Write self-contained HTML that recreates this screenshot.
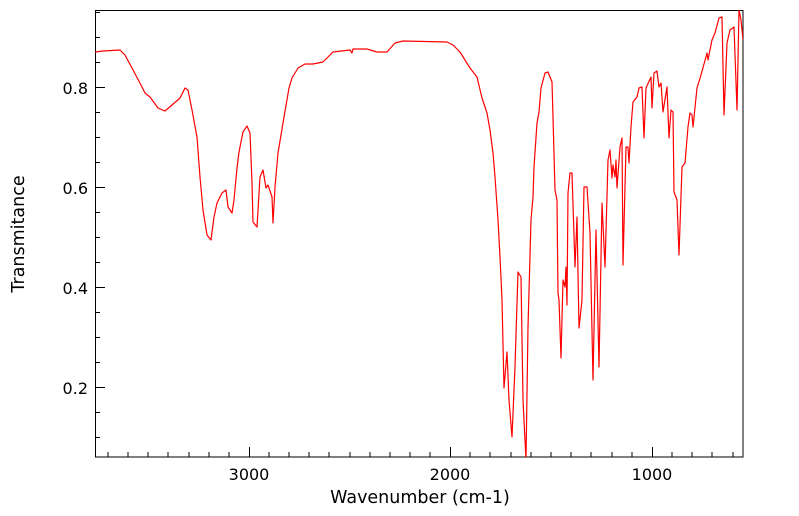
<!DOCTYPE html>
<html><head><style>body{margin:0;background:#fff}svg{display:block}</style></head><body>
<svg width="799" height="516" xmlns="http://www.w3.org/2000/svg" font-family="DejaVu Sans, Liberation Sans, sans-serif">
<defs><clipPath id="c"><rect x="95" y="10" width="648" height="447"/></clipPath></defs>
<rect x="95.5" y="10.5" width="647.5" height="446.5" fill="none" stroke="#000" stroke-width="1"/>
<g stroke="#000" stroke-width="1">
<path d="M249.5 457v-10M450.5 457v-10M652.5 457v-10"/>
<path d="M108 457v-5M128 457v-5M148 457v-5M168 457v-5M189 457v-5M209 457v-5M229 457v-5M269 457v-5M289 457v-5M309 457v-5M329 457v-5M350 457v-5M370 457v-5M390 457v-5M410 457v-5M430 457v-5M470 457v-5M490 457v-5M511 457v-5M531 457v-5M551 457v-5M571 457v-5M591 457v-5M612 457v-5M632 457v-5M672 457v-5M692 457v-5M712 457v-5M733 457v-5"/>
<path d="M95 87.5h10M95 187.5h10M95 287.5h10M95 387.5h10"/>
<path d="M95 12.5h5M95 37.5h5M95 62.5h5M95 112.5h5M95 137.5h5M95 162.5h5M95 212.5h5M95 237.5h5M95 262.5h5M95 312.5h5M95 337.5h5M95 362.5h5M95 412.5h5M95 437.5h5"/>
</g>
<g font-size="16" fill="#000">
<text x="88" y="94" text-anchor="end">0.8</text>
<text x="88" y="194" text-anchor="end">0.6</text>
<text x="88" y="294" text-anchor="end">0.4</text>
<text x="88" y="394" text-anchor="end">0.2</text>
<text x="249" y="480" text-anchor="middle">3000</text>
<text x="450" y="480" text-anchor="middle">2000</text>
<text x="652" y="480" text-anchor="middle">1000</text>
<text x="420" y="503" text-anchor="middle" font-size="17.5">Wavenumber (cm-1)</text>
<text transform="translate(24,234) rotate(-90)" text-anchor="middle" font-size="17.5">Transmitance</text>
</g>
<polyline clip-path="url(#c)" fill="none" stroke="#ff0000" stroke-width="1.2" stroke-linejoin="round" points="95,52 103,51 120,50 125,55 132,68 142,87 145,93 150,97 158,108 165,111 172,105 180,98 185,88 188,90 192,110 197,137 200,177 203,210 207,235 211,240 214,217 217,203 222,193 226,190 228,207 232,213 234,200 237,168 239,152 243,132 247,126 250,133 252,183 253,222 257,227 260,177 263,170 266,188 268,185 272,197 273,223 275,187 278,153 283,123 289,88 292,78 298,68 305,64 313,64 323,62 333,52 350,50 352,53 353,49 367,49 377,52 387,52 395,43 403,41 447,42 453,45 460,52 470,68 477,77 482,98 487,113 490,130 493,153 495,177 498,220 500,257 502,300 504,388 507,352 509,400 512,437 515,367 518,272 521,277 523,400 526,460 528,327 531,220 533,197 534,167 537,123 539,112 541,88 545,73 548,72 552,82 553,117 555,190 557,200 558,293 559,300 561,358 563,280 565,287 566,267 567,305 568,193 570,173 572,173 575,267 577,217 579,328 582,300 584,187 587,187 590,233 593,380 596,230 599,367 602,203 605,267 608,160 610,150 612,178 613,165 615,177 616,160 617,188 620,147 622,138 623,265 626,147 628,147 629,163 631,127 633,102 637,97 639,88 642,87 644,138 646,88 651,77 652,108 654,73 657,71 659,87 661,83 663,112 667,87 669,138 671,110 673,112 674,192 677,200 679,255 682,167 685,163 688,127 690,113 692,115 693,127 697,88 701,75 707,53 708,60 712,40 715,33 719,18 722,17 724,115 727,43 730,30 734,27 737,110 739,10 741,20 743,40"/>
</svg>
</body></html>
